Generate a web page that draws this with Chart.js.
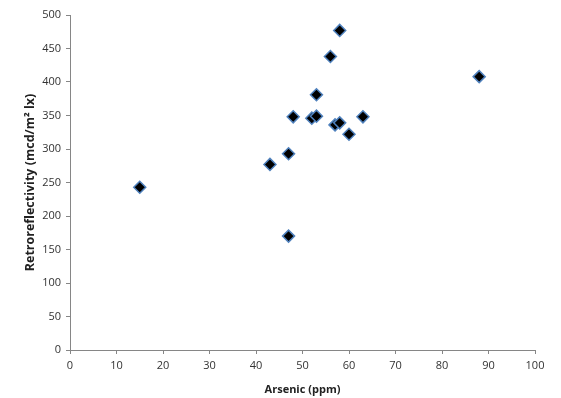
<!DOCTYPE html>
<html>
<head>
<meta charset="utf-8">
<script src="https://cdn.jsdelivr.net/npm/chart.js@4"></script>
<style>
  html, body { margin: 0; padding: 0; background: #fff; }
  #wrap { width: 561px; height: 398px; }
</style>
</head>
<body>
<div id="wrap"><canvas id="scChart" width="561" height="398"></canvas></div>
<script>
// values
const arsenic = [15, 43, 47, 47, 48, 52, 53, 53, 56, 57, 58, 58, 60, 63, 88];
const retro = [243, 277, 293, 170, 348, 346, 349, 381, 438, 336, 339, 477, 322, 348, 408];
const xTitle = 'Arsenic (ppm)';
const yTitle = 'Retroreflectivity (mcd/m\u00B2 lx)';

const points = arsenic.map((x, i) => ({ x: x, y: retro[i] }));

const axisGrey = '#868686';
const font = { family: "'Open Sans', sans-serif", size: 11 };

const ctx = document.getElementById('scChart').getContext('2d');
const scChart = new Chart(ctx, {
	type: 'scatter',
	data: {
		datasets: [
			{
				label: 'Retroreflectivity',
				data: points,
				pointStyle: 'rectRot',
				pointRadius: 6,
				pointHoverRadius: 6,
				backgroundColor: '#000',
				borderColor: '#4f81bd',
				borderWidth: 1.5,
			},
		],
	},
	options: {
		responsive: false,
		animation: false,
		layout: {
			padding: { left: 0, right: 26, top: 15, bottom: 0 },
		},
		plugins: {
			legend: { display: false },
			tooltip: { enabled: false },
		},
		scales: {
			x: {
				type: 'linear',
				min: 0,
				max: 100,
				afterFit: function (scale) {
					scale.height = 48;
				},
				ticks: {
					stepSize: 10,
					color: '#333',
					font: font,
					padding: 5,
				},
				grid: {
					drawOnChartArea: false,
					drawTicks: true,
					tickLength: 4,
					color: axisGrey,
				},
				border: { display: true, color: axisGrey },
				title: {
					display: true,
					text: xTitle,
					color: '#222',
					font: { family: font.family, size: 11, weight: 'bold' },
					padding: { top: 2, bottom: 2 },
				},
			},
			y: {
				type: 'linear',
				min: 0,
				max: 500,
				afterFit: function (scale) {
					scale.width = 70;
				},
				ticks: {
					stepSize: 50,
					color: '#333',
					font: font,
					padding: 5,
				},
				grid: {
					drawOnChartArea: false,
					drawTicks: true,
					tickLength: 4,
					color: axisGrey,
				},
				border: { display: true, color: axisGrey },
				title: {
					display: true,
					text: yTitle,
					color: '#222',
					font: { family: font.family, size: 12.5, weight: 'bold' },
					padding: { top: 23, bottom: 4 },
				},
			},
		},
	},
});
</script>
</body>
</html>
